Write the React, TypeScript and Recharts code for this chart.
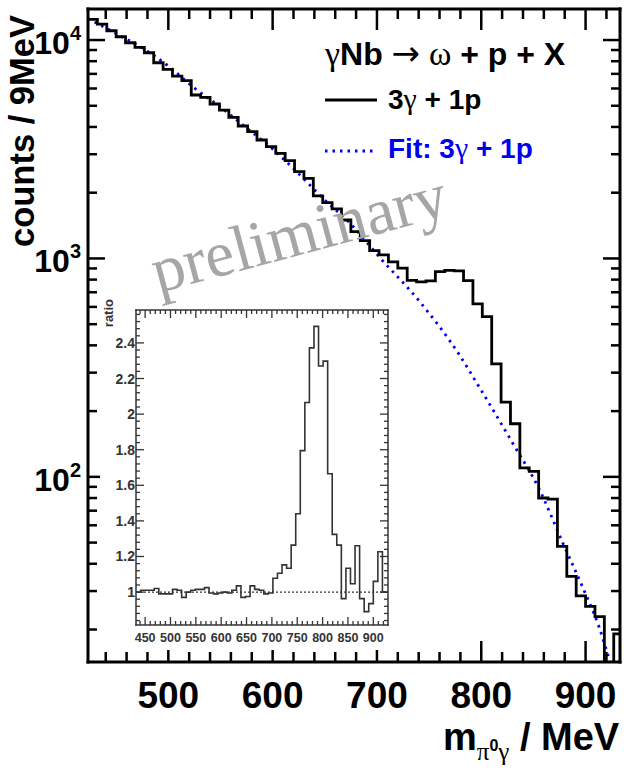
import React from 'react'
import { ComposedChart, Line, XAxis, YAxis, ReferenceLine } from 'recharts'

const W = 624
const H = 770
const SANS = "'Liberation Sans', Arial, Helvetica, sans-serif"
const SERIF = "'Liberation Serif', 'DejaVu Serif', serif"
const BLUE = '#0000f0'

// histogram: 9 MeV bins, first bin starts at 423 MeV
const BIN_WIDTH = 9
const FIRST_EDGE = 423

// counts / 9MeV, one value per bin (423-432, 432-441, ...)
const counts = [
  12435, 11835, 11030, 10354, 9720, 9260, 8747, 7872, 7343, 6842,
  6512, 5602, 5468, 5095, 4781, 4429, 4041, 3805, 3486, 3249,
  3030, 2803, 2496, 2328, 1932, 1801, 1685, 1500, 1326, 1206,
  1086, 1038, 964, 902, 793, 781, 789, 870, 881, 878,
  791, 619, 541, 329, 220, 175, 110, 106, 80, 79,
  48, 35, 28.5, 25.5, 22.9, 0, 19.1,
]

// fit curve
const fitMass = [423, 450, 475, 500, 525, 550, 575, 600, 625, 650, 673, 702, 741, 779, 798, 830, 856, 878, 897, 913, 923, 930]
const fitValue = [12550, 10700, 9200, 7600, 6030, 4930, 3960, 3170, 2440, 1850, 1469, 1019, 634, 362, 258, 143, 87, 50, 31.4, 20.5, 14.5, 11.5]

// inset: data / fit ratio, bins starting at 432 MeV
const ratio = [
  1.0, 1.01, 1.01, 1.01, 1.02, 0.99, 0.99, 0.99, 1.015, 1.01,
  0.97, 1.0, 1.01, 1.015, 1.015, 1.025, 0.995, 0.99, 0.995, 1.0,
  0.995, 1.01, 1.035, 0.97, 0.975, 1.035, 1.015, 1.01, 0.99, 0.995,
  1.078, 1.106, 1.153, 1.134, 1.264, 1.44, 1.795, 2.065, 2.372, 2.493,
  2.27, 2.298, 1.665, 1.324, 1.264, 0.963, 1.134, 1.047, 1.26, 0.963,
  0.89, 0.935, 1.06, 1.227, 1.0, 1.0,
]

const range = (from: number, to: number, step: number) => {
  const out: number[] = []
  for (let v = from; v <= to + 1e-9; v += step) out.push(Math.round(v * 1000) / 1000)
  return out
}

const X_TICKS = range(440, 920, 20)
const X_LABELS = [500, 600, 700, 800, 900]
const Y_TICKS = [...range(20, 90, 10), ...range(100, 900, 100), ...range(1000, 10000, 1000)]
const Y_MAJOR = [100, 1000, 10000]
const Y_EXPONENTS = ['2', '3', '4']

const INSET_X_TICKS = range(440, 920, 10)
const INSET_X_LABELS = [450, 500, 550, 600, 650, 700, 750, 800, 850, 900]
const INSET_Y_TICKS = range(0.84, 2.56, 0.04)
const INSET_Y_MAJOR = [1, 1.2, 1.4, 1.6, 1.8, 2, 2.2, 2.4]
const INSET_Y_LABELS = ['1', '1.2', '1.4', '1.6', '1.8', '2', '2.2', '2.4']

const histRows = counts.map((c, i) => ({ x: FIRST_EDGE + i * BIN_WIDTH, y: Math.max(c, 1) }))
histRows.push({ x: FIRST_EDGE + counts.length * BIN_WIDTH, y: Math.max(counts[counts.length - 1], 1) })

const fitRows = fitMass.map((m, i) => ({ x: m, y: fitValue[i] }))

const ratioRows = ratio.map((r, i) => ({ x: FIRST_EDGE + (i + 1) * BIN_WIDTH, y: r }))
ratioRows.push({ x: FIRST_EDGE + (ratio.length + 1) * BIN_WIDTH, y: ratio[ratio.length - 1] })

// ---- main axes ticks (ROOT style, pointing inwards) ----
const BottomTick = (props: any) => {
  const { x, y, payload } = props
  const major = X_LABELS.includes(payload.value)
  return (
    <g>
      <line x1={x} y1={y} x2={x} y2={y - (major ? 21 : 10)} stroke="#000" strokeWidth={2.5} />
      {major && (
        <text x={x} y={y + 46} textAnchor="middle" fontFamily={SANS} fontWeight="bold" fontSize={37} fill="#000">
          {payload.value}
        </text>
      )}
    </g>
  )
}

const TopTick = (props: any) => {
  const { x, y, payload } = props
  const major = X_LABELS.includes(payload.value)
  return <line x1={x} y1={y} x2={x} y2={y + (major ? 21 : 10)} stroke="#000" strokeWidth={2.5} />
}

const LeftTick = (props: any) => {
  const { x, y, payload } = props
  const idx = Y_MAJOR.indexOf(payload.value)
  return (
    <g>
      <line x1={x} y1={y} x2={x + (idx >= 0 ? 17 : 9)} y2={y} stroke="#000" strokeWidth={2.5} />
      {idx >= 0 && (
        <text x={x - 7} y={y + 14} textAnchor="end" fontFamily={SANS} fontWeight="bold" fontSize={32} fill="#000">
          10<tspan dy={-14} fontSize={20}>{Y_EXPONENTS[idx]}</tspan>
        </text>
      )}
    </g>
  )
}

const RightTick = (props: any) => {
  const { x, y, payload } = props
  const major = Y_MAJOR.includes(payload.value)
  return <line x1={x} y1={y} x2={x - (major ? 17 : 9)} y2={y} stroke="#000" strokeWidth={2.5} />
}

// ---- inset ticks ----
const InsetBottomTick = (props: any) => {
  const { x, y, payload } = props
  const major = INSET_X_LABELS.includes(payload.value)
  return (
    <g>
      <line x1={x} y1={y} x2={x} y2={y - (major ? 8 : 4)} stroke="#333" strokeWidth={1.3} />
      {major && (
        <text x={x} y={y + 17} textAnchor="middle" fontFamily={SANS} fontWeight="bold" fontSize={12.5} fill="#333">
          {payload.value}
        </text>
      )}
    </g>
  )
}

const InsetTopTick = (props: any) => {
  const { x, y, payload } = props
  const major = INSET_X_LABELS.includes(payload.value)
  return <line x1={x} y1={y} x2={x} y2={y + (major ? 8 : 4)} stroke="#333" strokeWidth={1.3} />
}

const InsetLeftTick = (props: any) => {
  const { x, y, payload } = props
  const idx = INSET_Y_MAJOR.indexOf(payload.value)
  return (
    <g>
      <line x1={x} y1={y} x2={x + (idx >= 0 ? 8 : 4)} y2={y} stroke="#333" strokeWidth={1.3} />
      {idx >= 0 && (
        <text x={x - 1} y={y + 5} textAnchor="end" fontFamily={SANS} fontWeight="bold" fontSize={14} fill="#333">
          {INSET_Y_LABELS[idx]}
        </text>
      )}
    </g>
  )
}

const InsetRightTick = (props: any) => {
  const { x, y, payload } = props
  const major = INSET_Y_MAJOR.includes(payload.value)
  return <line x1={x} y1={y} x2={x - (major ? 8 : 4)} y2={y} stroke="#333" strokeWidth={1.3} />
}

const frame = { stroke: '#000', strokeWidth: 3, strokeLinecap: 'square' as const }
const insetFrame = { stroke: '#333', strokeWidth: 1.5, strokeLinecap: 'square' as const }

// axes get a 1px band (recharts skips axes of zero size); margins are 1px smaller
const RatioInset = () => (
  <div style={{ position: 'absolute', left: 100, top: 293, width: 295, height: 357, background: '#fff' }}>
    <ComposedChart width={295} height={357} margin={{ top: 16, right: 6, bottom: 24, left: 35 }}>
      <XAxis
        type="number" dataKey="x" domain={[432, 929]} allowDataOverflow
        ticks={INSET_X_TICKS} interval={0} height={1} tickSize={0} tickMargin={0}
        tick={InsetBottomTick} tickLine={false} axisLine={insetFrame}
      />
      <XAxis
        xAxisId="top" orientation="top" type="number" dataKey="x" domain={[432, 929]} allowDataOverflow
        ticks={INSET_X_TICKS} interval={0} height={1} tickSize={0} tickMargin={0}
        tick={InsetTopTick} tickLine={false} axisLine={insetFrame}
      />
      <YAxis
        type="number" domain={[0.815, 2.585]} allowDataOverflow
        ticks={INSET_Y_TICKS} interval={0} width={1} tickSize={0} tickMargin={0}
        tick={InsetLeftTick} tickLine={false} axisLine={insetFrame}
      />
      <YAxis
        yAxisId="right" orientation="right" type="number" domain={[0.815, 2.585]} allowDataOverflow
        ticks={INSET_Y_TICKS} interval={0} width={1} tickSize={0} tickMargin={0}
        tick={InsetRightTick} tickLine={false} axisLine={insetFrame}
      />
      <ReferenceLine y={1} stroke="#333" strokeWidth={1.2} strokeDasharray="2 2" />
      <Line
        data={ratioRows} dataKey="y" type="stepAfter" stroke="#333" strokeWidth={1.6}
        dot={false} activeDot={false} isAnimationActive={false} strokeLinejoin="miter"
      />
    </ComposedChart>
    <svg width={295} height={357} style={{ position: 'absolute', left: 0, top: 0, pointerEvents: 'none' }}>
      <text
        transform="translate(13,6) rotate(-90)" textAnchor="end"
        fontFamily={SANS} fontWeight="bold" fontSize={13} fill="#333"
      >
        ratio
      </text>
    </svg>
  </div>
)

export default function App() {
  return (
    <div style={{ position: 'absolute', left: 0, top: 0, width: W, height: H, background: '#fff', overflow: 'hidden' }}>
      <ComposedChart width={W} height={H} margin={{ top: 8, right: 3, bottom: 107, left: 87 }}>
        <XAxis
          type="number" dataKey="x" domain={[423, 933]} allowDataOverflow
          ticks={X_TICKS} interval={0} height={1} tickSize={0} tickMargin={0}
          tick={BottomTick} tickLine={false} axisLine={frame}
        />
        <XAxis
          xAxisId="top" orientation="top" type="number" dataKey="x" domain={[423, 933]} allowDataOverflow
          ticks={X_TICKS} interval={0} height={1} tickSize={0} tickMargin={0}
          tick={TopTick} tickLine={false} axisLine={frame}
        />
        <YAxis
          type="number" scale="log" domain={[14.2, 13870]} allowDataOverflow
          ticks={Y_TICKS} interval={0} width={1} tickSize={0} tickMargin={0}
          tick={LeftTick} tickLine={false} axisLine={frame}
        />
        <YAxis
          yAxisId="right" orientation="right" type="number" scale="log" domain={[14.2, 13870]} allowDataOverflow
          ticks={Y_TICKS} interval={0} width={1} tickSize={0} tickMargin={0}
          tick={RightTick} tickLine={false} axisLine={frame}
        />
        <Line
          data={fitRows} dataKey="y" type="monotone" stroke={BLUE} strokeWidth={2.8}
          strokeDasharray="2.5 5" dot={false} activeDot={false} isAnimationActive={false}
        />
        <Line
          data={histRows} dataKey="y" type="stepAfter" stroke="#000" strokeWidth={2.8}
          dot={false} activeDot={false} isAnimationActive={false} strokeLinejoin="miter"
        />
      </ComposedChart>

      <RatioInset />

      <svg width={W} height={H} style={{ position: 'absolute', left: 0, top: 0, pointerEvents: 'none' }}>
        {/* axis titles */}
        <text
          transform="translate(34,15) rotate(-90)" textAnchor="end"
          fontFamily={SANS} fontWeight="bold" fontSize={34.5} fill="#000"
        >
          counts / 9MeV
        </text>
        <text x={443} y={750} fontFamily={SANS} fontWeight="bold" fontSize={38} fill="#000">
          m
          <tspan dy={10} fontSize={25} fontFamily={SERIF} fontWeight="normal">π</tspan>
          <tspan dy={-9} fontSize={16} fontWeight="bold">0</tspan>
          <tspan dy={9} fontSize={25} fontFamily={SERIF} fontWeight="normal">γ</tspan>
          <tspan dy={-10}>{' / MeV'}</tspan>
        </text>

        {/* legend */}
        <text x={325} y={65} fontFamily={SANS} fontWeight="bold" fontSize={32} fill="#000">
          <tspan fontFamily={SERIF} fontWeight="normal" fontSize={34}>γ</tspan>
          Nb{' '}
          <tspan fontFamily="'DejaVu Sans', sans-serif" fontWeight="normal" fontSize={34}>→</tspan>
          {' '}
          <tspan fontFamily={SERIF} fontWeight="normal" fontSize={34}>ω</tspan>
          {' + p + X'}
        </text>
        <line x1={325} y1={100} x2={377} y2={100} stroke="#000" strokeWidth={2.8} />
        <text x={388} y={109} fontFamily={SANS} fontWeight="bold" fontSize={28} fill="#000">
          3<tspan fontFamily={SERIF} fontWeight="normal" fontSize={30}>γ</tspan>{' + 1p'}
        </text>
        <line x1={325} y1={151} x2={377} y2={151} stroke={BLUE} strokeWidth={2.8} strokeDasharray="2.5 5" />
        <text x={388} y={158} fontFamily={SANS} fontWeight="bold" fontSize={28} fill={BLUE}>
          {'Fit: 3'}<tspan fontFamily={SERIF} fontWeight="normal" fontSize={30}>γ</tspan>{' + 1p'}
        </text>

        {/* watermark */}
        <text
          x={158} y={293} transform="rotate(-15 158 293)"
          fontFamily={SERIF} fontSize={65} fill="#a6a6a6"
        >
          preliminary
        </text>
      </svg>
    </div>
  )
}
